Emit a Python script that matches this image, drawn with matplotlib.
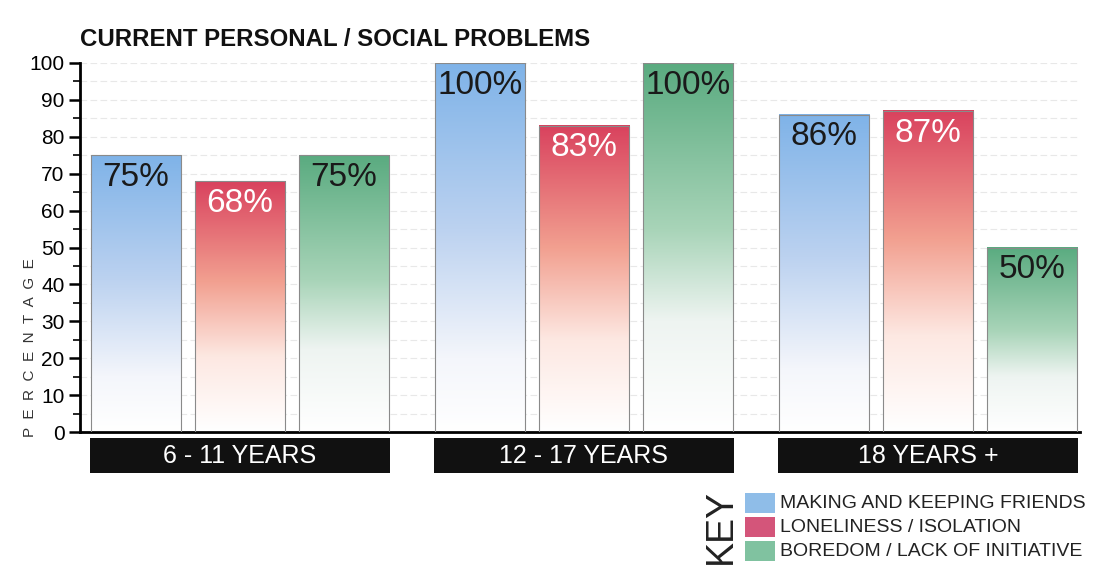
import matplotlib.pyplot as plt
import numpy as np
from matplotlib.colors import LinearSegmentedColormap
from matplotlib.patches import Rectangle
from matplotlib.ticker import MultipleLocator

groups = ['6 - 11 YEARS', '12 - 17 YEARS', '18 YEARS +']
series = ['MAKING AND KEEPING FRIENDS', 'LONELINESS / ISOLATION', 'BOREDOM / LACK OF INITIATIVE']
friends = [75, 100, 86]
lonely = [68, 83, 87]
boredom = [75, 100, 50]
values = [friends, lonely, boredom]

font = ['Liberation Sans', 'DejaVu Sans']
plt.rcParams['font.family'] = font

# gradient maps, white at bottom to full colour at top
cmaps = [
    LinearSegmentedColormap.from_list('b', [(0, '#ffffff'), (0.2, '#f4f6fb'), (0.55, '#bcd2f0'), (1, '#7fb3e8')]),
    LinearSegmentedColormap.from_list('r', [(0, '#ffffff'), (0.3, '#fde8e2'), (0.6, '#f2a090'), (1, '#d9425e')]),
    LinearSegmentedColormap.from_list('g', [(0, '#ffffff'), (0.3, '#eef4f1'), (0.55, '#a8d4b8'), (1, '#5aab80')]),
]
key_colors = ['#8fbde8', '#d4557a', '#80c2a0']
label_colors = ['#1a1a1a', '#ffffff', '#1a1a1a']

fig = plt.figure(figsize=(10.98, 5.70), dpi=100)
ax = fig.add_axes([80 / 1098, 1 - 432 / 570, 1000 / 1098, 369 / 570])

x = np.arange(len(groups))
step = 0.302
width = 0.262
grad = np.linspace(0, 1, 256).reshape(-1, 1)

for s, vals in enumerate(values):
    for g, v in enumerate(vals):
        xc = x[g] + (s - 1) * step
        ax.imshow(grad, cmap=cmaps[s], origin='lower', aspect='auto',
                  extent=[xc - width / 2, xc + width / 2, 0, v], zorder=2)
        ax.add_patch(Rectangle((xc - width / 2, 0), width, v, fill=False,
                               edgecolor='#8a8a8a', lw=0.8, zorder=3))
        ax.text(xc, v - 1.8, f'{v}%', ha='center', va='top', fontsize=24,
                color=label_colors[s], zorder=4)

for g, name in enumerate(groups):
    ax.add_patch(Rectangle((x[g] - 0.436, -11.2), 0.872, 9.6, facecolor='#111111',
                           edgecolor='none', clip_on=False))
    ax.text(x[g], -6.5, name, ha='center', va='center', color='white', fontsize=18)

ax.set_xlim(-0.465, 2.442)
ax.set_ylim(0, 100)
ax.set_xticks([])
ax.yaxis.set_major_locator(MultipleLocator(10))
ax.yaxis.set_minor_locator(MultipleLocator(5))
ax.tick_params(axis='y', which='major', length=8, width=1.8, labelsize=15, pad=3)
ax.tick_params(axis='y', which='minor', length=5, width=1.2)
ax.grid(axis='y', which='both', color='#e8e8e8', lw=0.8, ls=(0, (6, 3)), zorder=0)
ax.set_axisbelow(True)
for side in ['top', 'right']:
    ax.spines[side].set_visible(False)
ax.spines['left'].set_linewidth(2)
ax.spines['bottom'].set_linewidth(2)

fig.text(30 / 1098, 1 - 348 / 570, '  '.join('PERCENTAGE'), rotation=90,
         ha='center', va='center', fontsize=11, color='#333333')
fig.text(80 / 1098, 1 - 40 / 570, 'CURRENT PERSONAL / SOCIAL PROBLEMS',
         ha='left', va='center', fontsize=17.3, fontweight='bold', color='#111111')

# key
fig.text(721 / 1098, 1 - 527 / 570, 'KEY', rotation=90, ha='center', va='center',
         fontsize=27, color='#222222')
for i, name in enumerate(series):
    yc = 503 + i * 24
    fig.patches.append(Rectangle((745 / 1098, 1 - (yc + 10) / 570), 30 / 1098, 20 / 570,
                                 transform=fig.transFigure, facecolor=key_colors[i],
                                 edgecolor='none'))
    fig.text(780 / 1098, 1 - yc / 570, name, ha='left', va='center', fontsize=14,
             color='#222222')

fig.savefig('out.png', dpi=100)
